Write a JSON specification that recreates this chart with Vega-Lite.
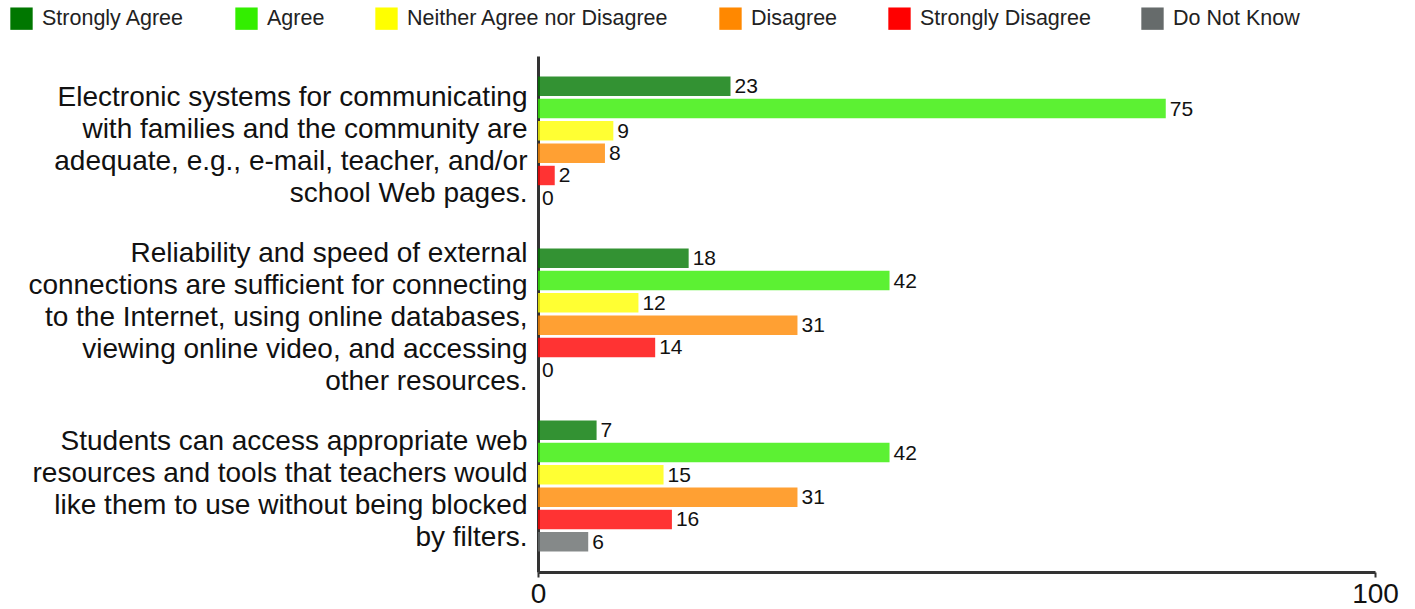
{
  "$schema": "https://vega.github.io/schema/vega-lite/v6.json",
  "width": 837,
  "height": 516,
  "autosize": {"type": "none"},
  "padding": {"left": 538, "top": 56, "right": 40, "bottom": 37},
  "background": "white",
  "config": {
    "font": "Liberation Sans",
    "view": {"stroke": null}
  },
  "data": {
    "values": [
      {"q": "Electronic systems for communicating|with families and the community are|adequate, e.g., e-mail, teacher, and/or|school Web pages.", "r": "Strongly Agree", "v": 23},
      {"q": "Electronic systems for communicating|with families and the community are|adequate, e.g., e-mail, teacher, and/or|school Web pages.", "r": "Agree", "v": 75},
      {"q": "Electronic systems for communicating|with families and the community are|adequate, e.g., e-mail, teacher, and/or|school Web pages.", "r": "Neither Agree nor Disagree", "v": 9},
      {"q": "Electronic systems for communicating|with families and the community are|adequate, e.g., e-mail, teacher, and/or|school Web pages.", "r": "Disagree", "v": 8},
      {"q": "Electronic systems for communicating|with families and the community are|adequate, e.g., e-mail, teacher, and/or|school Web pages.", "r": "Strongly Disagree", "v": 2},
      {"q": "Electronic systems for communicating|with families and the community are|adequate, e.g., e-mail, teacher, and/or|school Web pages.", "r": "Do Not Know", "v": 0},
      {"q": "Reliability and speed of external|connections are sufficient for connecting|to the Internet, using online databases,|viewing online video, and accessing|other resources.", "r": "Strongly Agree", "v": 18},
      {"q": "Reliability and speed of external|connections are sufficient for connecting|to the Internet, using online databases,|viewing online video, and accessing|other resources.", "r": "Agree", "v": 42},
      {"q": "Reliability and speed of external|connections are sufficient for connecting|to the Internet, using online databases,|viewing online video, and accessing|other resources.", "r": "Neither Agree nor Disagree", "v": 12},
      {"q": "Reliability and speed of external|connections are sufficient for connecting|to the Internet, using online databases,|viewing online video, and accessing|other resources.", "r": "Disagree", "v": 31},
      {"q": "Reliability and speed of external|connections are sufficient for connecting|to the Internet, using online databases,|viewing online video, and accessing|other resources.", "r": "Strongly Disagree", "v": 14},
      {"q": "Reliability and speed of external|connections are sufficient for connecting|to the Internet, using online databases,|viewing online video, and accessing|other resources.", "r": "Do Not Know", "v": 0},
      {"q": "Students can access appropriate web|resources and tools that teachers would|like them to use without being blocked|by filters.", "r": "Strongly Agree", "v": 7},
      {"q": "Students can access appropriate web|resources and tools that teachers would|like them to use without being blocked|by filters.", "r": "Agree", "v": 42},
      {"q": "Students can access appropriate web|resources and tools that teachers would|like them to use without being blocked|by filters.", "r": "Neither Agree nor Disagree", "v": 15},
      {"q": "Students can access appropriate web|resources and tools that teachers would|like them to use without being blocked|by filters.", "r": "Disagree", "v": 31},
      {"q": "Students can access appropriate web|resources and tools that teachers would|like them to use without being blocked|by filters.", "r": "Strongly Disagree", "v": 16},
      {"q": "Students can access appropriate web|resources and tools that teachers would|like them to use without being blocked|by filters.", "r": "Do Not Know", "v": 6}
    ]
  },
  "encoding": {
    "y": {
      "field": "q", "type": "nominal", "sort": null,
      "scale": {"paddingInner": 0.238, "paddingOuter": 0.119},
      "axis": {
        "title": null,
        "labelExpr": "split(datum.label, '|')",
        "labelFontSize": 28,
        "labelLineHeight": 32,
        "labelColor": "#111",
        "labelPadding": 11,
        "labelBaseline": "middle",
        "labelOffset": {"expr": "4 - (length(split(datum.value, '|')) - 1) * 16"},
        "ticks": false,
        "domainColor": "#333",
        "domainWidth": 3,
        "labelLimit": 600
      }
    },
    "yOffset": {
      "field": "r", "type": "nominal",
      "sort": ["Strongly Agree", "Agree", "Neither Agree nor Disagree", "Disagree", "Strongly Disagree", "Do Not Know"],
      "scale": {"paddingInner": 0.13, "paddingOuter": 0}
    },
    "x": {
      "field": "v", "type": "quantitative",
      "scale": {"domain": [0, 100], "nice": false},
      "axis": {
        "title": null,
        "values": [0, 100],
        "grid": false,
        "labelFontSize": 28,
        "labelColor": "#111",
        "labelPadding": 3,
        "tickSize": 5,
        "tickColor": "#333",
        "tickWidth": 2,
        "domainColor": "#333",
        "domainWidth": 3,
        "labelFlush": false
      }
    }
  },
  "layer": [
    {
      "mark": {"type": "bar", "opacity": 0.8},
      "encoding": {
        "color": {
          "field": "r", "type": "nominal",
          "sort": ["Strongly Agree", "Agree", "Neither Agree nor Disagree", "Disagree", "Strongly Disagree", "Do Not Know"],
          "scale": {
            "domain": ["Strongly Agree", "Agree", "Neither Agree nor Disagree", "Disagree", "Strongly Disagree", "Do Not Know"],
            "range": ["#007700", "#33ee00", "#ffff00", "#ff8800", "#ff0000", "#666b6b"]
          },
          "legend": {
            "title": null,
            "orient": "none",
            "direction": "horizontal",
            "legendX": -528,
            "legendY": -49,
            "symbolType": "square",
            "symbolSize": 500,
            "symbolOpacity": 1,
            "symbolStrokeWidth": 0,
            "labelFontSize": 21.5,
            "labelColor": "#222",
            "labelOffset": 9,
            "columnPadding": 50,
            "labelLimit": 400
          }
        }
      }
    },
    {
      "mark": {"type": "text", "align": "left", "baseline": "middle", "dx": 4, "dy": 1, "fontSize": 21, "color": "#111"},
      "encoding": {"text": {"field": "v", "type": "quantitative"}}
    }
  ]
}
